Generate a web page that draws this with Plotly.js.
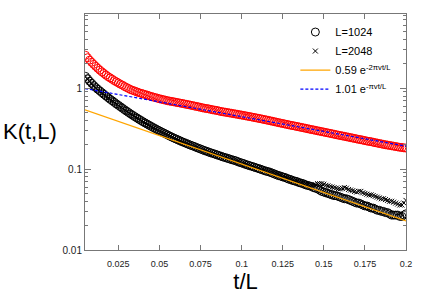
<!DOCTYPE html>
<html>
<head>
<meta charset="utf-8">
<script src="https://cdn.plot.ly/plotly-3.0.1.min.js"></script>
<style>
  body { margin: 0; padding: 0; background: #fff; }
  #k_graph { width: 425px; height: 298px; }
</style>
</head>
<body>
<div id="k_graph"></div>
<script>
/**
 * Colors
 */
const red = "#FF0000";
const black = "#000000";
const orange = "#FFA500";
const blue = "#0000FF";
const frameColor = "#777777";

/**
 * t/L sample points (shared by the three data sets)
 */
const t_over_L = [
  0.005, 0.00625, 0.0075, 0.00875, 0.01, 0.01125, 0.0125, 0.01375, 0.015, 0.01625,
  0.0175, 0.01875, 0.02, 0.02125, 0.0225, 0.02375, 0.025, 0.02625, 0.0275, 0.02875,
  0.03, 0.03125, 0.0325, 0.03375, 0.035, 0.03625, 0.0375, 0.03875, 0.04, 0.04125,
  0.0425, 0.04375, 0.045, 0.04625, 0.0475, 0.04875, 0.05, 0.05125, 0.0525, 0.05375,
  0.055, 0.05625, 0.0575, 0.05875, 0.06, 0.06125, 0.0625, 0.06375, 0.065, 0.06625,
  0.0675, 0.06875, 0.07, 0.07125, 0.0725, 0.07375, 0.075, 0.07625, 0.0775, 0.07875,
  0.08, 0.08125, 0.0825, 0.08375, 0.085, 0.08625, 0.0875, 0.08875, 0.09, 0.09125,
  0.0925, 0.09375, 0.095, 0.09625, 0.0975, 0.09875, 0.1, 0.10125, 0.1025, 0.10375,
  0.105, 0.10625, 0.1075, 0.10875, 0.11, 0.11125, 0.1125, 0.11375, 0.115, 0.11625,
  0.1175, 0.11875, 0.12, 0.12125, 0.1225, 0.12375, 0.125, 0.12625, 0.1275, 0.12875,
  0.13, 0.13125, 0.1325, 0.13375, 0.135, 0.13625, 0.1375, 0.13875, 0.14, 0.14125,
  0.1425, 0.14375, 0.145, 0.14625, 0.1475, 0.14875, 0.15, 0.15125, 0.1525, 0.15375,
  0.155, 0.15625, 0.1575, 0.15875, 0.16, 0.16125, 0.1625, 0.16375, 0.165, 0.16625,
  0.1675, 0.16875, 0.17, 0.17125, 0.1725, 0.17375, 0.175, 0.17625, 0.1775, 0.17875,
  0.18, 0.18125, 0.1825, 0.18375, 0.185, 0.18625, 0.1875, 0.18875, 0.19, 0.19125,
  0.1925, 0.19375, 0.195, 0.19625, 0.1975, 0.19875, 0.2
];

/**
 * Upper (red) data set
 */
const k_red = [
  2.55, 2.38, 2.22, 2.09, 1.97, 1.86, 1.76, 1.67, 1.59, 1.52,
  1.45, 1.39, 1.34, 1.29, 1.24, 1.2, 1.16, 1.12, 1.09, 1.05,
  1.02, 0.99, 0.96, 0.94, 0.92, 0.9, 0.88, 0.865, 0.85, 0.835,
  0.82, 0.805, 0.79, 0.777, 0.765, 0.752, 0.74, 0.73, 0.72, 0.71,
  0.70, 0.692, 0.685, 0.678, 0.67, 0.662, 0.655, 0.648, 0.64, 0.632,
  0.625, 0.618, 0.61, 0.602, 0.595, 0.588, 0.58, 0.572, 0.565, 0.56,
  0.555, 0.547, 0.54, 0.535, 0.53, 0.522, 0.515, 0.51, 0.505, 0.5,
  0.495, 0.49, 0.485, 0.48, 0.475, 0.47, 0.465, 0.46, 0.455, 0.45,
  0.445, 0.44, 0.435, 0.43, 0.425, 0.42, 0.415, 0.41, 0.405, 0.4,
  0.395, 0.39, 0.385, 0.38, 0.375, 0.37, 0.366, 0.361, 0.357, 0.352,
  0.348, 0.344, 0.34, 0.336, 0.332, 0.328, 0.324, 0.32, 0.316, 0.312,
  0.308, 0.305, 0.301, 0.297, 0.294, 0.29, 0.287, 0.283, 0.28, 0.277,
  0.273, 0.27, 0.266, 0.263, 0.26, 0.257, 0.254, 0.251, 0.248, 0.245,
  0.242, 0.239, 0.236, 0.233, 0.231, 0.228, 0.225, 0.222, 0.22, 0.218,
  0.215, 0.212, 0.21, 0.207, 0.205, 0.202, 0.2, 0.198, 0.196, 0.194,
  0.192, 0.19, 0.188, 0.186, 0.185, 0.183, 0.182
];

/**
 * L=1024 (circles)
 */
const k_1024 = [
  1.40, 1.31, 1.22, 1.15, 1.08, 1.02, 0.97, 0.925, 0.88, 0.84,
  0.80, 0.765, 0.73, 0.70, 0.67, 0.64, 0.615, 0.59, 0.565, 0.542,
  0.52, 0.5, 0.48, 0.462, 0.445, 0.429, 0.413, 0.399, 0.385, 0.372,
  0.36, 0.348, 0.337, 0.326, 0.316, 0.306, 0.297, 0.288, 0.28, 0.272,
  0.264, 0.256, 0.249, 0.242, 0.236, 0.23, 0.224, 0.218, 0.213, 0.208,
  0.203, 0.198, 0.194, 0.19, 0.185, 0.181, 0.177, 0.173, 0.169, 0.166,
  0.162, 0.159, 0.156, 0.153, 0.15, 0.147, 0.144, 0.141, 0.139, 0.136,
  0.134, 0.131, 0.129, 0.127, 0.124, 0.121, 0.119, 0.117, 0.114, 0.112,
  0.11, 0.108, 0.106, 0.104, 0.102, 0.1, 0.098, 0.096, 0.094, 0.093,
  0.091, 0.089, 0.087, 0.085, 0.083, 0.082, 0.08, 0.079, 0.077, 0.075,
  0.074, 0.072, 0.071, 0.07, 0.068, 0.067, 0.066, 0.064, 0.063, 0.062,
  0.061, 0.059, 0.058, 0.057, 0.055, 0.053, 0.052, 0.051, 0.05, 0.049,
  0.048, 0.047, 0.047, 0.046, 0.045, 0.044, 0.043, 0.043, 0.042, 0.041,
  0.04, 0.039, 0.038, 0.038, 0.037, 0.036, 0.035, 0.035, 0.034, 0.033,
  0.033, 0.032, 0.031, 0.031, 0.03, 0.03, 0.029, 0.029, 0.028, 0.027,
  0.027, 0.027, 0.027, 0.026, 0.026, 0.027, 0.028
];

/**
 * L=2048 (crosses)
 */
const k_2048 = [
  1.38, 1.29, 1.21, 1.14, 1.07, 1.01, 0.96, 0.915, 0.875, 0.834,
  0.795, 0.76, 0.728, 0.697, 0.668, 0.638, 0.612, 0.587, 0.563, 0.54,
  0.518, 0.498, 0.479, 0.461, 0.444, 0.428, 0.412, 0.398, 0.384, 0.371,
  0.359, 0.347, 0.336, 0.325, 0.315, 0.305, 0.296, 0.287, 0.279, 0.271,
  0.263, 0.255, 0.248, 0.241, 0.235, 0.229, 0.223, 0.217, 0.212, 0.207,
  0.202, 0.197, 0.193, 0.188, 0.184, 0.18, 0.176, 0.172, 0.168, 0.165,
  0.161, 0.158, 0.155, 0.152, 0.149, 0.146, 0.143, 0.141, 0.138, 0.136,
  0.133, 0.13, 0.128, 0.126, 0.123, 0.121, 0.118, 0.116, 0.114, 0.112,
  0.11, 0.108, 0.106, 0.104, 0.102, 0.1, 0.098, 0.097, 0.095, 0.093,
  0.092, 0.09, 0.088, 0.087, 0.085, 0.083, 0.081, 0.08, 0.078, 0.077,
  0.075, 0.074, 0.072, 0.071, 0.07, 0.068, 0.067, 0.066, 0.064, 0.063,
  0.063, 0.064, 0.064, 0.066, 0.066, 0.066, 0.065, 0.063, 0.062, 0.061,
  0.06, 0.059, 0.058, 0.057, 0.057, 0.058, 0.059, 0.058, 0.056, 0.055,
  0.054, 0.053, 0.052, 0.053, 0.053, 0.051, 0.05, 0.049, 0.048, 0.048,
  0.047, 0.046, 0.045, 0.044, 0.043, 0.043, 0.042, 0.041, 0.04, 0.04,
  0.039, 0.038, 0.037, 0.036, 0.036, 0.038, 0.041
];

/**
 * Fit lines (straight on the log axis, so two end points each)
 */
const fit_t = [0.0047, 0.2];
const fit_fast = [0.54, 0.0229];   // 0.59 e^{-2 pi v t/L}
const fit_slow = [0.99, 0.192];    // 1.01 e^{-pi v t/L}

/**
 * Ticks
 */
const x_ticks = [0.025, 0.05, 0.075, 0.1, 0.125, 0.15, 0.175, 0.2];
const x_tick_text = ['0.025', '0.05', '0.075', '0.1', '0.125', '0.15', '0.175', '0.2'];
const y_ticks = [0.01, 0.1, 1];
const y_tick_text = ['0.01', '0.1', '1'];

function kChart() {
    var upper = {
        x: t_over_L,
        y: k_red,
        mode: 'markers',
        showlegend: false,
        marker: {symbol: 'circle-open', color: red, size: 8, line: {width: 1, color: red}}
    };

    var l1024 = {
        x: t_over_L,
        y: k_1024,
        mode: 'markers',
        name: 'L=1024',
        marker: {symbol: 'circle-open', color: black, size: 8, line: {width: 1, color: black}}
    };

    var l2048 = {
        x: t_over_L,
        y: k_2048,
        mode: 'markers',
        name: 'L=2048',
        marker: {symbol: 'x-thin-open', color: black, size: 5, line: {width: 1, color: black}}
    };

    var fast = {
        x: fit_t,
        y: fit_fast,
        mode: 'lines',
        name: '0.59 e<sup>-2πvt/L</sup>',
        line: {color: orange, width: 1.2}
    };

    var slow = {
        x: fit_t,
        y: fit_slow,
        mode: 'lines',
        name: '1.01 e<sup>-πvt/L</sup>',
        line: {color: blue, width: 1.2, dash: '3px,2px'}
    };

    var data = [upper, l1024, l2048, fast, slow];

    var axisBase = {
        showline: true,
        linecolor: frameColor,
        linewidth: 1,
        mirror: 'allticks',
        ticks: 'inside',
        tickcolor: frameColor,
        showgrid: false,
        zeroline: false,
        tickfont: {family: 'Liberation Sans, Arial, sans-serif', size: 9, color: '#222'}
    };

    var layout = {
        width: 425,
        height: 298,
        margin: {l: 85, r: 19, t: 14, b: 48},
        paper_bgcolor: '#fff',
        plot_bgcolor: '#fff',
        font: {family: 'Liberation Sans, Arial, sans-serif', color: '#000'},
        xaxis: Object.assign({}, axisBase, {
            range: [0.0047, 0.2],
            tickmode: 'array',
            tickvals: x_ticks,
            ticktext: x_tick_text,
            ticklen: 5,
            ticklabelstandoff: 5,
            title: {text: 't/L', font: {size: 22, color: '#000'}, standoff: 2}
        }),
        yaxis: Object.assign({}, axisBase, {
            type: 'log',
            range: [-2, 0.917],
            tickmode: 'array',
            tickvals: y_ticks,
            ticktext: y_tick_text,
            ticklen: 6,
            tickfont: {family: 'Liberation Sans, Arial, sans-serif', size: 10, color: '#222'},
            minor: {dtick: 'D1', ticks: 'inside', ticklen: 3, tickcolor: frameColor, showgrid: false}
        }),
        annotations: [{
            text: 'K(t,L)',
            xref: 'paper', yref: 'paper',
            x: -0.171, y: 0.504,
            xanchor: 'center', yanchor: 'middle',
            showarrow: false,
            font: {size: 22, color: '#000'}
        }],
        legend: {
            x: 0.97, y: 0.985,
            xanchor: 'right', yanchor: 'top',
            bgcolor: 'rgba(255,255,255,0)',
            borderwidth: 0,
            itemwidth: 30,
            tracegroupgap: 0,
            font: {size: 11, color: '#000'}
        }
    };

    Plotly.newPlot('k_graph', data, layout, {displayModeBar: false, staticPlot: true});
}

kChart();
</script>
</body>
</html>
